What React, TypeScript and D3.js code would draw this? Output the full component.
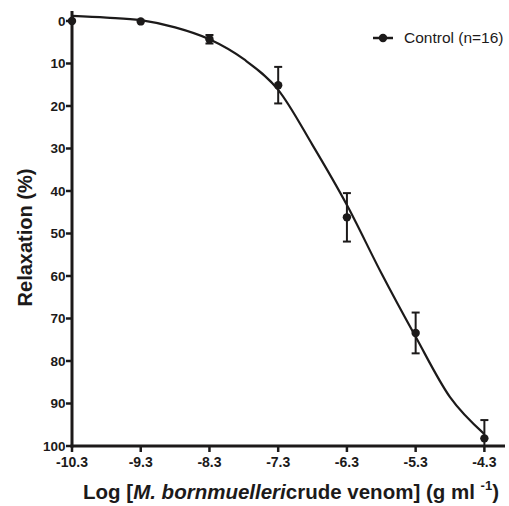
import React from "react";
import * as d3 from "d3";

const doses = [-10.3, -9.3, -8.3, -7.3, -6.3, -5.3, -4.3];
const relaxMean = [0, 0.1, 4.3, 15.1, 46.2, 73.4, 98.2];
const relaxSem = [0, 0, 1.0, 4.3, 5.7, 4.8, 4.3];
const fitX = [-10.3, -9.8, -9.3, -8.8, -8.3, -7.8, -7.3, -6.8, -6.3, -5.8, -5.3, -4.8, -4.3];
const fitY = [-1.2, -0.8, -0.2, 1.5, 4.3, 9.0, 16.2, 29.2, 43.3, 59.3, 74.3, 88.5, 97.2];
const xTicks = [-10.3, -9.3, -8.3, -7.3, -6.3, -5.3, -4.3];
const yTicks = [0, 10, 20, 30, 40, 50, 60, 70, 80, 90, 100];
const seriesName = "Control (n=16)";

const W = 509;
const H = 506;
const INK = "#1c1a1a";
const FONT = "'Liberation Sans', Arial, Helvetica, sans-serif";

export default function App() {
  const x = d3.scaleLinear().domain([-10.3, -4.0]).range([72, 505]);
  const y = d3.scaleLinear().domain([-2.35, 100]).range([11, 446]);
  const line = d3
    .line<number>()
    .x((_, i) => x(fitX[i]))
    .y((d) => y(d))
    .curve(d3.curveMonotoneX);
  const capW = 4;
  return (
    <svg
      width={W}
      height={H}
      style={{ position: "absolute", left: 0, top: 0, background: "#fff" }}
      fontFamily={FONT}
    >
      <defs>
        <clipPath id="plotClip">
          <rect x={0} y={0} width={W} height={y(100) - 1} />
        </clipPath>
      </defs>
      {/* fitted curve */}
      <path d={line(fitY) || ""} fill="none" stroke={INK} strokeWidth={2.2} />
      {/* error bars */}
      <g clipPath="url(#plotClip)" stroke={INK} strokeWidth={2}>
        {doses.map((d, i) =>
          relaxSem[i] > 0 ? (
            <g key={i}>
              <line x1={x(d)} x2={x(d)} y1={y(relaxMean[i] - relaxSem[i])} y2={y(relaxMean[i] + relaxSem[i])} />
              <line x1={x(d) - capW} x2={x(d) + capW} y1={y(relaxMean[i] - relaxSem[i])} y2={y(relaxMean[i] - relaxSem[i])} />
              <line x1={x(d) - capW} x2={x(d) + capW} y1={y(relaxMean[i] + relaxSem[i])} y2={y(relaxMean[i] + relaxSem[i])} />
            </g>
          ) : null
        )}
      </g>
      {/* markers */}
      {doses.map((d, i) => (
        <circle key={i} cx={x(d)} cy={y(relaxMean[i])} r={4.2} fill={INK} />
      ))}
      {/* axes */}
      <line x1={x(-10.3)} x2={x(-10.3)} y1={y(-2.35)} y2={y(100) + 1.5} stroke={INK} strokeWidth={3} />
      <line x1={x(-10.3) - 1.5} x2={x(-4.0)} y1={y(100)} y2={y(100)} stroke={INK} strokeWidth={3} />
      {yTicks.map((t) => (
        <g key={t}>
          <line x1={x(-10.3) - 6} x2={x(-10.3)} y1={y(t)} y2={y(t)} stroke={INK} strokeWidth={2.5} />
          <text x={x(-10.3) - 6.5} y={y(t)} dy="0.36em" textAnchor="end" fontSize={13.5} fontWeight="bold" fill={INK}>
            {t}
          </text>
        </g>
      ))}
      {xTicks.map((t) => (
        <g key={t}>
          <line x1={x(t)} x2={x(t)} y1={y(100)} y2={y(100) + 6} stroke={INK} strokeWidth={2.5} />
          <text x={x(t)} y={y(100) + 21} textAnchor="middle" fontSize={14} fontWeight="bold" fill={INK}>
            {t}
          </text>
        </g>
      ))}
      {/* axis titles */}
      <text
        transform={`translate(32, ${(y(0) + y(100)) / 2 + 4}) rotate(-90)`}
        textAnchor="middle"
        fontSize={20}
        fontWeight="bold"
        fill={INK}
      >
        Relaxation (%)
      </text>
      <text x={291} y={499} textAnchor="middle" fontSize={20.5} fontWeight="bold" fill={INK}>
        <tspan>Log [</tspan>
        <tspan fontStyle="italic">M. bornmuelleri</tspan>
        <tspan>crude venom] (g ml </tspan>
        <tspan fontSize={13} dy={-9}>-1</tspan>
        <tspan dy={9}>)</tspan>
      </text>
      {/* legend */}
      <line x1={373} x2={393} y1={38} y2={38} stroke={INK} strokeWidth={2.5} />
      <circle cx={383} cy={38} r={4.2} fill={INK} />
      <text x={404} y={38} dy="0.35em" fontSize={15.5} fill={INK}>
        {seriesName}
      </text>
    </svg>
  );
}
